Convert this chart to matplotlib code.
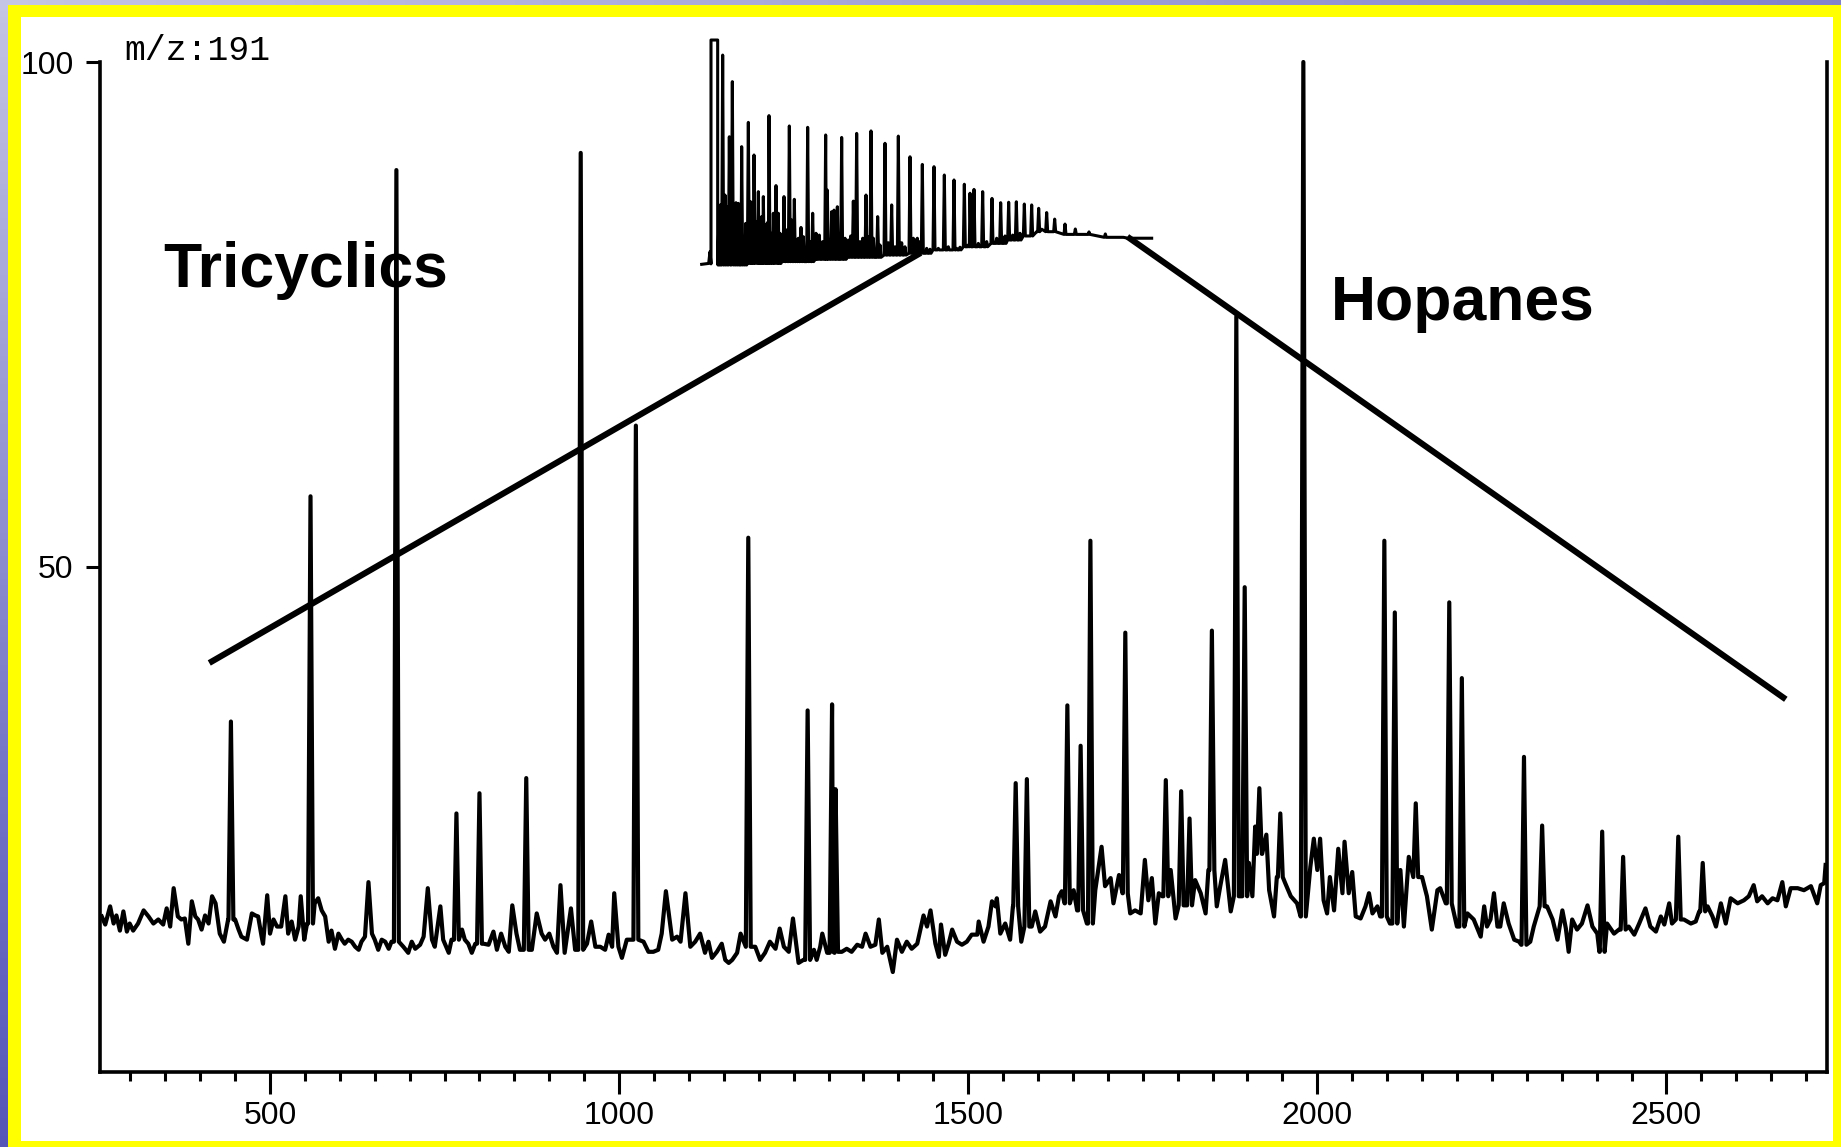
import numpy as np
import matplotlib.pyplot as plt
from matplotlib.patches import Rectangle
from matplotlib.ticker import MultipleLocator
from matplotlib.colors import LinearSegmentedColormap

# ---- m/z 191 trace: noisy baseline (scan, relative intensity) ----
base_rt = [259, 264, 271, 276, 280, 285, 290, 295, 299, 304, 311, 319, 326, 333, 340, 347, 352, 357, 362, 368,
           373, 378, 383, 388, 393, 397, 402, 407, 412, 417, 422, 428, 434, 440, 450, 455, 459, 467, 474, 479,
           483, 488, 490, 496, 500, 505, 510, 516, 522, 526, 531, 536, 541, 544, 549, 553, 564, 569, 574, 579,
           584, 588, 593, 598, 603, 607, 612, 617, 622, 627, 631, 636, 641, 646, 650, 655, 660, 665, 670, 674,
           691, 698, 703, 708, 715, 720, 726, 732, 736, 744, 748, 756, 760, 775, 779, 784, 789, 794, 806, 813,
           820, 825, 831, 837, 842, 847, 853, 858, 875, 882, 889, 894, 900, 906, 911, 916, 922, 931, 937, 954,
           960, 966, 973, 980, 985, 990, 993, 999, 1004, 1011, 1016, 1035, 1042, 1049, 1056, 1061, 1067, 1076,
           1083, 1088, 1095, 1102, 1109, 1116, 1123, 1128, 1133, 1140, 1147, 1152, 1157, 1162, 1169, 1174, 1195,
           1202, 1209, 1216, 1224, 1230, 1236, 1243, 1249, 1257, 1264, 1279, 1283, 1288, 1291, 1298, 1319, 1326,
           1333, 1341, 1348, 1353, 1360, 1367, 1372, 1377, 1384, 1392, 1398, 1405, 1412, 1419, 1427, 1436, 1441,
           1446, 1453, 1458, 1461, 1467, 1472, 1477, 1484, 1491, 1498, 1505, 1513, 1515, 1522, 1529, 1534, 1539,
           1541, 1546, 1553, 1560, 1564, 1576, 1591, 1596, 1603, 1610, 1618, 1625, 1630, 1634, 1638, 1651, 1656,
           1670, 1682, 1691, 1696, 1704, 1708, 1716, 1721, 1732, 1739, 1747, 1753, 1758, 1763, 1768, 1773, 1778,
           1790, 1797, 1811, 1825, 1833, 1840, 1844, 1856, 1861, 1868, 1876, 1890, 1902, 1907, 1911, 1921, 1927,
           1931, 1938, 1942, 1954, 1962, 1971, 1976, 1990, 1995, 2000, 2004, 2009, 2014, 2018, 2024, 2030, 2036,
           2039, 2045, 2050, 2055, 2062, 2069, 2074, 2079, 2086, 2090, 2104, 2119, 2124, 2131, 2150, 2157, 2164,
           2172, 2176, 2184, 2200, 2215, 2224, 2234, 2239, 2243, 2248, 2253, 2258, 2262, 2267, 2274, 2282, 2289,
           2292, 2305, 2310, 2329, 2337, 2344, 2351, 2356, 2360, 2365, 2372, 2379, 2387, 2394, 2401, 2404, 2415,
           2425, 2432, 2446, 2454, 2461, 2470, 2477, 2485, 2492, 2497, 2504, 2508, 2525, 2535, 2542, 2547, 2559,
           2566, 2571, 2578, 2585, 2592, 2602, 2611, 2618, 2625, 2630, 2637, 2645, 2652, 2659, 2666, 2671, 2678,
           2688, 2697, 2707, 2716, 2721, 2726, 2728]
base_int = [15.4, 14.6, 16.4, 14.7, 15.5, 14.0, 15.9, 13.9, 14.7, 14.0, 14.7, 16.0, 15.4, 14.7, 15.1, 14.6, 16.2, 14.4, 18.2, 15.4,
            15.1, 15.2, 12.7, 16.9, 15.4, 15.1, 14.1, 15.5, 14.7, 17.4, 16.7, 13.7, 12.9, 15.1, 15.1, 14.1, 13.4, 13.1, 15.7, 15.5,
            15.4, 13.4, 12.7, 17.5, 13.7, 15.1, 14.4, 14.4, 17.4, 13.7, 14.9, 13.1, 14.4, 17.4, 13.1, 14.7, 16.7, 17.2, 16.0, 15.4,
            12.9, 14.0, 12.2, 13.7, 13.1, 12.7, 13.1, 12.9, 12.4, 12.1, 12.9, 13.4, 18.8, 13.7, 13.1, 12.1, 13.1, 12.9, 12.2, 12.9,
            12.4, 11.8, 12.9, 12.2, 12.6, 13.4, 18.2, 13.1, 12.4, 16.4, 13.1, 11.8, 13.1, 14.1, 13.1, 12.7, 11.8, 12.7, 12.7, 12.6,
            13.9, 12.1, 13.7, 12.4, 11.9, 16.5, 13.7, 12.1, 12.1, 15.7, 13.7, 13.1, 13.7, 12.4, 11.8, 18.5, 11.8, 16.2, 12.1, 12.7,
            14.9, 12.4, 12.4, 12.1, 13.6, 12.4, 17.7, 12.4, 11.3, 13.1, 13.1, 12.9, 11.9, 11.9, 12.1, 13.7, 17.9, 13.1,
            13.4, 12.9, 17.7, 12.4, 12.9, 13.7, 11.8, 12.9, 11.3, 11.9, 12.7, 11.1, 10.8, 11.1, 11.8, 13.7, 12.4,
            11.1, 11.8, 12.9, 12.2, 14.2, 12.4, 11.9, 15.2, 10.8, 11.1, 12.1, 11.1, 12.4, 13.7, 11.8, 11.9, 12.2,
            11.9, 12.6, 12.4, 13.7, 12.4, 12.6, 15.1, 11.8, 12.4, 9.9, 13.1, 11.9, 12.9, 12.2, 12.7, 15.5, 14.4,
            16.0, 12.7, 11.4, 14.6, 11.6, 12.7, 14.1, 12.9, 12.6, 12.9, 13.6, 13.6, 14.9, 12.9, 14.4, 16.9, 16.4,
            17.2, 13.7, 14.7, 13.1, 16.4, 12.9, 14.4, 15.9, 13.9, 14.4, 16.9, 15.4, 17.4, 17.9, 16.7, 18.0, 16.0,
            14.7, 18.0, 22.3, 18.4, 19.2, 16.7, 19.5, 17.7, 15.7, 16.0, 15.7, 21.0, 17.0, 19.2, 14.7, 17.7, 17.4,
            20.0, 15.2, 16.5, 19.0, 17.7, 15.7, 20.0, 16.4, 18.4, 21.0, 15.9, 17.4, 20.7, 17.4, 24.3, 21.6, 23.5,
            18.0, 15.4, 19.3, 18.7, 17.4, 16.7, 15.4, 20.3, 23.1, 20.0, 23.1, 17.0, 15.7, 19.3, 16.0, 22.1, 17.7,
            22.8, 17.7, 19.8, 15.4, 15.2, 16.4, 17.7, 15.7, 16.4, 15.4, 14.7, 20.0, 14.4, 21.3, 19.3, 17.4, 14.1,
            18.0, 18.2, 16.7, 14.4, 15.7, 15.1, 13.4, 16.4, 14.4, 15.1, 17.7, 14.4, 14.4, 16.7, 14.7, 13.1, 12.9,
            12.6, 12.9, 14.4, 16.4, 15.1, 13.1, 16.0, 14.2, 11.9, 15.1, 14.1, 14.7, 16.5, 14.4, 13.7, 11.9, 14.7,
            13.7, 14.1, 14.4, 13.6, 14.7, 16.2, 14.4, 13.9, 15.4, 14.6, 16.7, 14.7, 15.1, 14.7, 14.9, 15.9, 16.4,
            15.4, 14.4, 16.7, 14.7, 17.2, 16.7, 17.0, 17.4, 18.5, 16.9, 17.4, 16.7, 17.2, 17.0, 18.8, 16.4, 18.2,
            18.2, 18.0, 18.4, 16.7, 18.5, 18.7, 20.5]

# ---- resolved peaks (tricyclics and hopanes) ----
peak_rt = [444, 558, 681, 767, 800, 867, 945, 1024, 1185, 1270, 1305, 1310, 1568, 1584, 1642, 1661, 1675, 1725, 1783,
           1805, 1817, 1849, 1884, 1896, 1917, 1947, 1980, 2096, 2111, 2141, 2189, 2207, 2296, 2322, 2408, 2438, 2517, 2552]
peak_int = [34.7, 57.0, 89.3, 25.6, 27.6, 29.1, 91.0, 64.0, 52.9, 35.8, 36.4, 28.0, 28.6, 29.0, 36.3, 32.3, 52.6, 43.5, 28.9,
            27.8, 25.1, 43.7, 74.8, 48.0, 28.1, 25.6, 100.0, 52.6, 45.5, 26.6, 46.5, 39.0, 31.2, 24.4, 23.8, 21.3, 23.3, 20.7]

# ---- inset: whole-oil trace ----
tic_lead_scan = [65, 86, 90, 93, 93, 113, 113]
tic_lead_int = [0.3, 0.7, 5.9, 0.5, 100, 100, 0.3]
tic_base_scan = [150, 250, 350, 450, 550, 650, 720, 800, 900, 960, 1000, 1040, 1070, 1085, 1100, 1200, 1330, 1345, 1415]
tic_base_int = [0.0, 0.7, 1.5, 2.5, 3.4, 4.4, 5.2, 6.7, 8.1, 9.6, 11.1, 12.9, 14.8, 15.9, 14.8, 13.6, 12.3, 11.9, 11.9]
tic_peak_scan = [128, 148, 157, 175, 185, 205, 212, 222, 235, 250, 267, 288, 295, 312, 328, 343, 363, 383, 398, 408,
                 418, 437, 442, 462, 472, 485, 520, 530, 558, 573, 593, 615, 635, 655, 690, 700, 712, 727, 762, 793,
                 822, 853, 870, 882, 908, 936, 962, 986, 1009, 1033, 1055, 1076, 1100, 1124, 1155, 1186, 1227, 1276]
tic_peak_int = [93.3, 57.0, 81.5, 27.4, 52.6, 63.4, 28.1, 48.9, 32.6, 30.4, 66.4, 35.3, 23.0, 30.4, 61.8, 29.2, 16.7, 61.2, 23.0, 14.1,
                13.3, 57.8, 33.3, 24.4, 25.9, 56.7, 28.4, 58.5, 31.1, 59.6, 21.5, 54.1, 26.7, 57.3, 48.1, 11.9, 11.9, 44.7, 43.7, 40.0,
                37.8, 35.9, 31.9, 33.6, 32.6, 29.6, 27.7, 27.9, 28.1, 27.1, 26.7, 25.2, 23.3, 20.4, 18.2, 16.0, 14.7, 13.8]
tic_minor_scan = [117, 121, 135, 140, 163, 168, 180, 192, 197, 217, 228, 240, 245, 257, 262, 275, 280, 300, 305, 320,
                  335, 350, 355, 370, 390, 410, 428, 448, 455, 495, 505, 512, 540, 548, 565, 580, 600, 625, 645, 665,
                  675, 707, 717, 740, 750, 775, 785, 805, 830, 840, 865, 895, 920, 950, 975, 998, 1020]
tic_minor_int = [25.9, 26.7, 31.1, 25.9, 11.9, 27.7, 20.0, 11.9, 18.5, 20.0, 19.3, 20.0, 21.5, 17.8, 18.8, 14.1, 23.0, 14.1, 12.9, 15.6,
                 20.0, 11.4, 11.9, 12.6, 10.4, 12.9, 10.4, 11.1, 23.7, 11.9, 11.1, 12.9, 10.4, 11.9, 12.6, 11.9, 8.9, 9.9, 8.1, 9.9,
                 8.1, 11.1, 10.4, 7.4, 7.0, 7.4, 6.7, 8.1, 7.4, 7.9, 8.9, 9.6, 10.4, 11.9, 12.9, 13.3, 14.1]

x_ticks = [500, 1000, 1500, 2000, 2500]
y_ticks = [50, 100]

# annotation lines linking the inset to the two compound groups
tri_line_x, tri_line_y = [413, 1432], [40.5, 81.1]
hop_line_x, hop_line_y = [1728, 2671], [82.7, 36.9]


def build_trace(bx, by, px, py, half):
    # drop baseline samples that sit under a peak, then add each peak as a narrow spike
    bx = np.asarray(bx, float)
    by = np.asarray(by, float)
    keep = np.ones(len(bx), bool)
    for p in px:
        keep &= np.abs(bx - p) > half
    xs = list(bx[keep])
    ys = list(by[keep])
    for p, h in zip(px, py):
        foot = by[np.argmin(np.abs(bx - p))]
        xs += [p - half, p, p + half]
        ys += [foot, h, foot]
    order = np.argsort(xs, kind='stable')
    return np.array(xs)[order], np.array(ys)[order]


W, H = 1841, 1147
fig = plt.figure(figsize=(W / 100, H / 100), dpi=100)

# slide background: blue gradient, yellow frame, white card
bg = fig.add_axes([0, 0, 1, 1], zorder=-10)
gy, gx = np.mgrid[0:1:200j, 0:1:200j]
cmap = LinearSegmentedColormap.from_list('slide', ['#c4c4e4', '#6c6cc4', '#2a2a9e'])
bg.imshow(0.8 * gy + 0.45 * gx, cmap=cmap, vmin=0, vmax=1.2, aspect='auto', extent=[0, 1, 0, 1])
bg.add_patch(Rectangle((8 / W, 0), 1 - 8 / W, 1 - 5 / H, transform=bg.transAxes, color='#ffff00', lw=0))
bg.add_patch(Rectangle((21 / W, 6 / H), (1833 - 21) / W, (1141 - 17) / H, transform=bg.transAxes,
                       color='white', lw=0))
bg.set_xlim(0, 1)
bg.set_ylim(0, 1)
bg.set_axis_off()

# main chromatogram
ax = fig.add_axes([100 / W, 1 - 1072 / H, 1727 / W, 1010 / H], zorder=2)
ax.patch.set_alpha(0)
tx, ty = build_trace(base_rt, base_int, peak_rt, peak_int, 3.5)
ax.plot(tx, ty, color='black', lw=3.0, solid_joinstyle='round', clip_on=False)
ax.set_xlim(256.5, 2730)
ax.set_ylim(0, 100)

for s in ['left', 'bottom', 'right']:
    ax.spines[s].set_linewidth(2.6)
ax.spines['top'].set_visible(False)
ax.set_xticks(x_ticks)
ax.xaxis.set_minor_locator(MultipleLocator(50))
ax.set_yticks(y_ticks)
ax.tick_params(axis='x', which='major', direction='out', length=16, width=2.2, pad=5, labelsize=23)
ax.tick_params(axis='x', which='minor', direction='out', length=6.5, width=2.2)
ax.tick_params(axis='y', which='major', direction='out', length=10, width=2.2, pad=9, labelsize=23)
for lab in ax.get_xticklabels() + ax.get_yticklabels():
    lab.set_family('Liberation Sans')

ax.text(292, 100.2, 'm/z:191', family='Liberation Mono', fontsize=25, ha='left', va='baseline', clip_on=False)
ax.text(347, 77.7, 'Tricyclics', family='Liberation Sans', fontweight='bold', fontsize=45,
        ha='left', va='baseline')
ax.text(2019, 74.5, 'Hopanes', family='Liberation Sans', fontweight='bold', fontsize=45,
        ha='left', va='baseline')

ax.plot(tri_line_x, tri_line_y, color='black', lw=4.4, solid_capstyle='butt', clip_on=False, zorder=5)
ax.plot(hop_line_x, hop_line_y, color='black', lw=4.4, solid_capstyle='butt', clip_on=False, zorder=5)

# inset: full-scan trace
ins = fig.add_axes([680 / W, 1 - 280 / H, 500 / W, 260 / H], zorder=1)
ins.patch.set_alpha(0)
ix, iy = build_trace(tic_base_scan, tic_base_int,
                     tic_peak_scan + tic_minor_scan, tic_peak_int + tic_minor_int, 3)
ix = np.concatenate([tic_lead_scan, ix])
iy = np.concatenate([tic_lead_int, iy])
ins.plot(ix, iy, color='black', lw=2.2, solid_joinstyle='round')
ins.set_xlim(0, 1500)
ins.set_ylim(-6.67, 108.9)
ins.set_axis_off()

fig.savefig('out.png', dpi=100)
